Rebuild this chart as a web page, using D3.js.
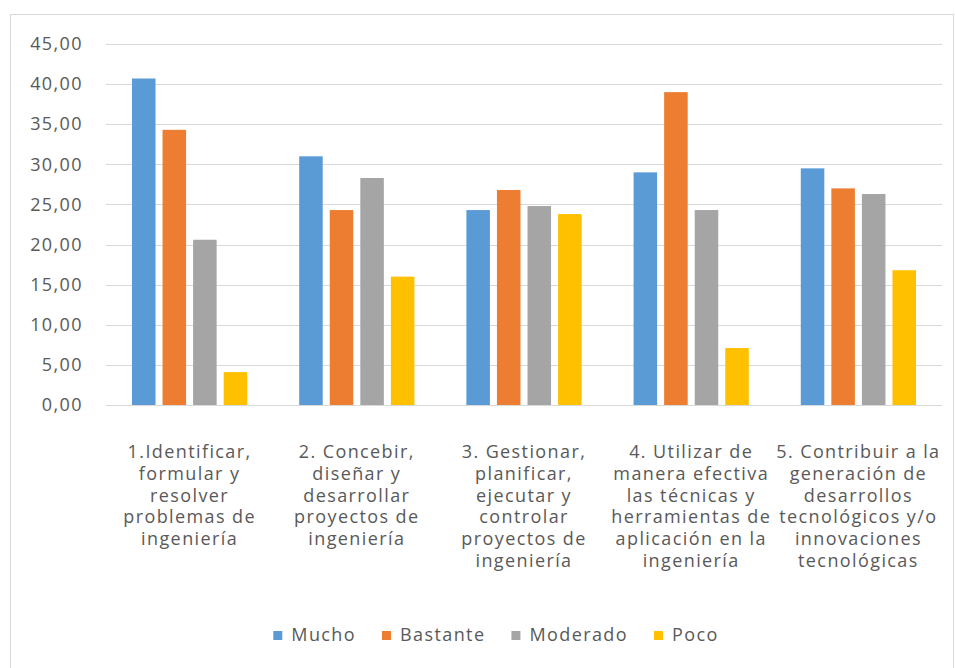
<!DOCTYPE html>
<html>
<head>
<meta charset="utf-8">
<script src="https://cdn.jsdelivr.net/npm/d3@7"></script>
<style>
  html, body { margin: 0; padding: 0; background: #fff; }
  svg { display: block; }
  text { font-family: "Open Sans", "Noto Sans", sans-serif; fill: #595959; }
</style>
</head>
<body>
<svg id="chart" width="955" height="668"></svg>
<script>
// Competencias evaluadas (etiquetas del eje X, una línea por elemento)
const categories = ["c1", "c2", "c3", "c4", "c5"];
const categoryLines = [
  ["1.Identificar,", "formular y", "resolver", "problemas de", "ingeniería"],
  ["2. Concebir,", "diseñar y", "desarrollar", "proyectos de", "ingeniería"],
  ["3. Gestionar,", "planificar,", "ejecutar y", "controlar", "proyectos de", "ingeniería"],
  ["4. Utilizar de", "manera efectiva", "las técnicas y", "herramientas de", "aplicación en la", "ingeniería"],
  ["5. Contribuir a la", "generación de", "desarrollos", "tecnológicos y/o", "innovaciones", "tecnológicas"]
];

// Series (porcentajes por nivel de respuesta)
const seriesNames = ["Mucho", "Bastante", "Moderado", "Poco"];
const mucho    = [40.7, 31.0, 24.3, 29.0, 29.5];
const bastante = [34.3, 24.3, 26.8, 39.0, 27.0];
const moderado = [20.6, 28.3, 24.8, 24.3, 26.3];
const poco     = [4.1, 16.0, 23.8, 7.1, 16.8];
const seriesValues = [mucho, bastante, moderado, poco];
const seriesColors = ["#5B9BD5", "#ED7D31", "#A5A5A5", "#FFC000"];

// Marcas del eje Y
const yTicks = [0, 5, 10, 15, 20, 25, 30, 35, 40, 45];
const yTickLabels = ["0,00", "5,00", "10,00", "15,00", "20,00", "25,00", "30,00", "35,00", "40,00", "45,00"];

const svg = d3.select("#chart");
const fontSize = 18;
const spacing = 1.4;

// Marco del área del gráfico
svg.append("rect")
  .attr("x", 10.5).attr("y", 14.5)
  .attr("width", 943).attr("height", 700)
  .attr("fill", "none").attr("stroke", "#d9d9d9").attr("stroke-width", 1);

const plot = { left: 106, right: 942, top: 44, bottom: 405 };

const x0 = d3.scaleBand().domain(categories).range([plot.left, plot.right]).padding(0);
const x1 = d3.scaleBand().domain(seriesNames).range([0, x0.bandwidth()])
  .paddingInner(0.23).paddingOuter(0.85);
const y = d3.scaleLinear().domain([0, 45]).range([plot.bottom, plot.top]);

// Líneas de cuadrícula
svg.append("g")
  .selectAll("line")
  .data(yTicks)
  .join("line")
  .attr("x1", plot.left).attr("x2", plot.right)
  .attr("y1", d => Math.round(y(d)) + 0.5).attr("y2", d => Math.round(y(d)) + 0.5)
  .attr("stroke", "#d9d9d9").attr("stroke-width", 1);

// Eje Y (solo etiquetas)
const yAxis = d3.axisLeft(y)
  .tickValues(yTicks)
  .tickFormat((d, i) => yTickLabels[i])
  .tickSize(0).tickPadding(0);
const gy = svg.append("g").attr("transform", `translate(83,0)`).call(yAxis);
gy.select(".domain").remove();
gy.selectAll("text")
  .attr("font-size", fontSize).attr("letter-spacing", spacing)
  .style("font-family", "'Open Sans', sans-serif").attr("fill", "#595959");

// Barras
const groups = svg.append("g")
  .selectAll("g")
  .data(categories)
  .join("g")
  .attr("transform", d => `translate(${x0(d)},0)`);

groups.selectAll("rect")
  .data((c, ci) => seriesNames.map((s, si) => ({ s, v: seriesValues[si][ci], color: seriesColors[si] })))
  .join("rect")
  .attr("x", d => x1(d.s))
  .attr("width", x1.bandwidth())
  .attr("y", d => y(d.v))
  .attr("height", d => y(0) - y(d.v))
  .attr("fill", d => d.color);

// Línea base del eje X
svg.append("line")
  .attr("x1", plot.left).attr("x2", plot.right)
  .attr("y1", plot.bottom + 0.5).attr("y2", plot.bottom + 0.5)
  .attr("stroke", "#d9d9d9");

// Etiquetas de categoría en varias líneas
const lineHeight = 21.8;
svg.append("g")
  .selectAll("text")
  .data(categories)
  .join("text")
  .attr("text-anchor", "middle")
  .attr("font-size", fontSize)
  .attr("letter-spacing", spacing)
  .attr("x", d => x0(d) + x0.bandwidth() / 2)
  .attr("y", 458)
  .each(function (d, i) {
    d3.select(this).selectAll("tspan")
      .data(categoryLines[i])
      .join("tspan")
      .attr("x", x0(d) + x0.bandwidth() / 2)
      .attr("dy", (t, j) => j === 0 ? 0 : lineHeight)
      .text(t => t);
  });

// Leyenda
const legend = svg.append("g");
const items = legend.selectAll("g")
  .data(seriesNames)
  .join("g");
items.append("rect")
  .attr("width", 9).attr("height", 9)
  .attr("y", 631)
  .attr("fill", (d, i) => seriesColors[i]);
items.append("text")
  .attr("x", 18).attr("y", 641)
  .attr("font-size", fontSize).attr("letter-spacing", spacing)
  .text(d => d);

const gap = 26;
let cursor = 0;
const positions = [];
items.each(function () {
  const w = this.querySelector("text").getComputedTextLength();
  positions.push(cursor);
  cursor += 18 + w + gap;
});
const totalW = cursor - gap;
const startX = 496 - totalW / 2;
items.attr("transform", (d, i) => `translate(${startX + positions[i]},0)`);
</script>
</body>
</html>
